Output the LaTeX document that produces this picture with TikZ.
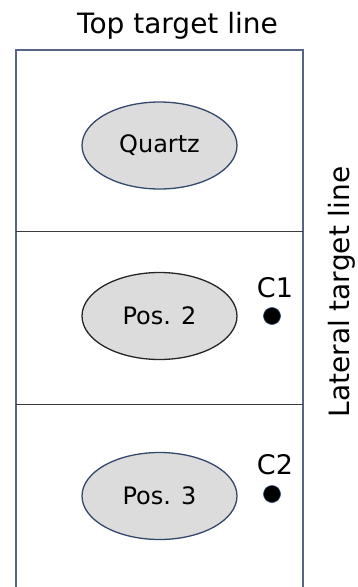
\documentclass[tikz,border=0pt]{standalone}
\usepackage{fontspec}
\setmainfont{DejaVu Sans}
\usetikzlibrary{shapes.geometric}
\definecolor{frameblue}{RGB}{85,100,135}
\definecolor{ellblue}{RGB}{50,72,108}
\definecolor{ellfill}{RGB}{220,220,220}
\definecolor{divgray}{RGB}{60,60,60}
\tikzset{
  posell/.style={ellipse, draw=ellblue, fill=ellfill, line width=1.3pt,
    minimum width=155pt, minimum height=87pt, inner sep=0pt,
    font=\fontsize{24}{29}\selectfont},
  dotc/.style={circle, fill=black, draw=ellblue, line width=0.6pt,
    minimum size=17pt, inner sep=0pt},
  clabel/.style={anchor=base, font=\fontsize{27}{32}\selectfont},
  bigtext/.style={anchor=base, font=\fontsize{28}{34}\selectfont},
  frame/.style={draw=frameblue, line width=1.6pt},
  divider/.style={draw=divgray, line width=1.1pt}
}
\begin{document}
\begin{tikzpicture}[x=1pt,y=-1pt]
\useasboundingbox (0,0) rectangle (358,587);
\clip (0,0) rectangle (358,587);
% frame and dividers
\draw[frame] (16,620) -- (16,50) -- (303,50) -- (303,620);
\coordinate (d1l) at (16,231.5);
\coordinate (d1r) at (303,231.5);
\coordinate (d2l) at (16,404.5);
\coordinate (d2r) at (303,404.5);
\draw[divider] (d1l) -- (d1r);
\draw[divider] (d2l) -- (d2r);
% ellipses
\node[posell] (quartz) at (159.5,145.5) {Quartz};
\node[posell, draw=black!85] (pos2) at (159.5,316) {Pos. 2};
\node[posell] (pos3) at (159.5,496) {Pos. 3};
% dots and labels
\node[dotc] (c1) at (272,316) {};
\node[dotc] (c2) at (272,494) {};
\node[clabel] (c1l) at (275,297) {C1};
\node[clabel] (c2l) at (275,474) {C2};
% titles
\node[bigtext] (top) at (177.5,33.3) {Top target line};
\node[bigtext, rotate=90] (lat) at (349,292) {Lateral target line};
\end{tikzpicture}
\end{document}
